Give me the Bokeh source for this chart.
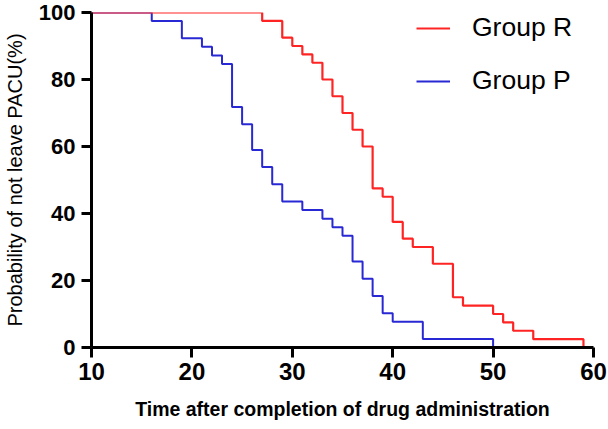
from bokeh.plotting import figure
from bokeh.models import Range1d, Legend, LegendItem, FixedTicker
from bokeh.embed import file_html
from bokeh.resources import INLINE

# Kaplan-Meier step data (time, % not leaving PACU)
r_time = [0, 27, 29, 30, 31, 32, 33, 34, 35, 36, 37, 38, 39, 40, 41, 42, 44, 46, 47, 50, 51, 52, 54, 59]
r_surv = [100, 97.5, 92.5, 90.0, 87.5, 85.0, 80.0, 75.0, 70.0, 65.0, 60.0, 47.5, 45.0, 37.5, 32.5, 30.0, 25.0, 15.0, 12.5, 10.0, 7.5, 5.0, 2.5, 0.0]

p_time = [0, 16, 19, 21, 22, 23, 24, 25, 26, 27, 28, 29, 31, 33, 34, 35, 36, 37, 38, 39, 40, 43, 50]
p_surv = [100, 97.44, 92.31, 89.74, 87.18, 84.62, 71.79, 66.67, 58.97, 53.85, 48.72, 43.59, 41.03, 38.46, 35.90, 33.33, 25.64, 20.51, 15.38, 10.26, 7.69, 2.56, 0.0]

x_ticks = [10, 20, 30, 40, 50, 60]
y_ticks = [0, 20, 40, 60, 80, 100]

FONT = "Liberation Sans"

p = figure(width=608, height=429, output_backend="svg", toolbar_location=None,
           x_range=Range1d(10, 60), y_range=Range1d(0, 100),
           min_border_left=91, min_border_right=15, min_border_top=12, min_border_bottom=82)
p.outline_line_color = None
p.grid.visible = False
p.background_fill_color = "white"
p.border_fill_color = "white"

pr = p.step(p_time, p_surv, mode="after", line_color="#2828d4", line_width=2)
rr = p.step(r_time, r_surv, mode="after", line_color="#ff2424", line_width=2.2)

for ax in (p.xaxis[0], p.yaxis[0]):
    ax.axis_line_width = 3
    ax.axis_line_color = "black"
    ax.major_tick_line_width = 3
    ax.major_tick_line_color = "black"
    ax.major_tick_out = 10
    ax.major_tick_in = 0
    ax.minor_tick_line_color = None
    ax.major_label_text_font = FONT
    ax.major_label_text_font_style = "bold"
    ax.major_label_text_font_size = "22px"
    ax.major_label_text_color = "black"
    ax.axis_label_text_font = FONT
    ax.axis_label_text_color = "black"

p.xaxis[0].major_label_text_font_size = "24px"
p.xaxis[0].ticker = FixedTicker(ticks=x_ticks)
p.yaxis[0].ticker = FixedTicker(ticks=y_ticks)
p.xaxis[0].major_label_standoff = 5
p.yaxis[0].major_label_standoff = 6

p.xaxis[0].axis_label = "Time after completion of drug administration"
p.xaxis[0].axis_label_text_font_style = "bold"
p.xaxis[0].axis_label_text_font_size = "19.5px"
p.xaxis[0].axis_label_standoff = 15

p.yaxis[0].axis_label = "Probability of not leave PACU(%)"
p.yaxis[0].axis_label_text_font_style = "normal"
p.yaxis[0].axis_label_text_font_size = "20px"
p.yaxis[0].axis_label_standoff = 10

legend = Legend(items=[LegendItem(label="Group R", renderers=[rr]),
                       LegendItem(label="Group P", renderers=[pr])],
                location=(325, 251), padding=0, margin=0, spacing=22,
                glyph_width=34, glyph_height=30, label_height=30, label_standoff=22,
                label_text_font=FONT, label_text_font_size="26.5px", label_text_color="black",
                border_line_color=None, background_fill_alpha=0)
p.add_layout(legend)

open("out.html", "w").write(file_html(p, INLINE))
